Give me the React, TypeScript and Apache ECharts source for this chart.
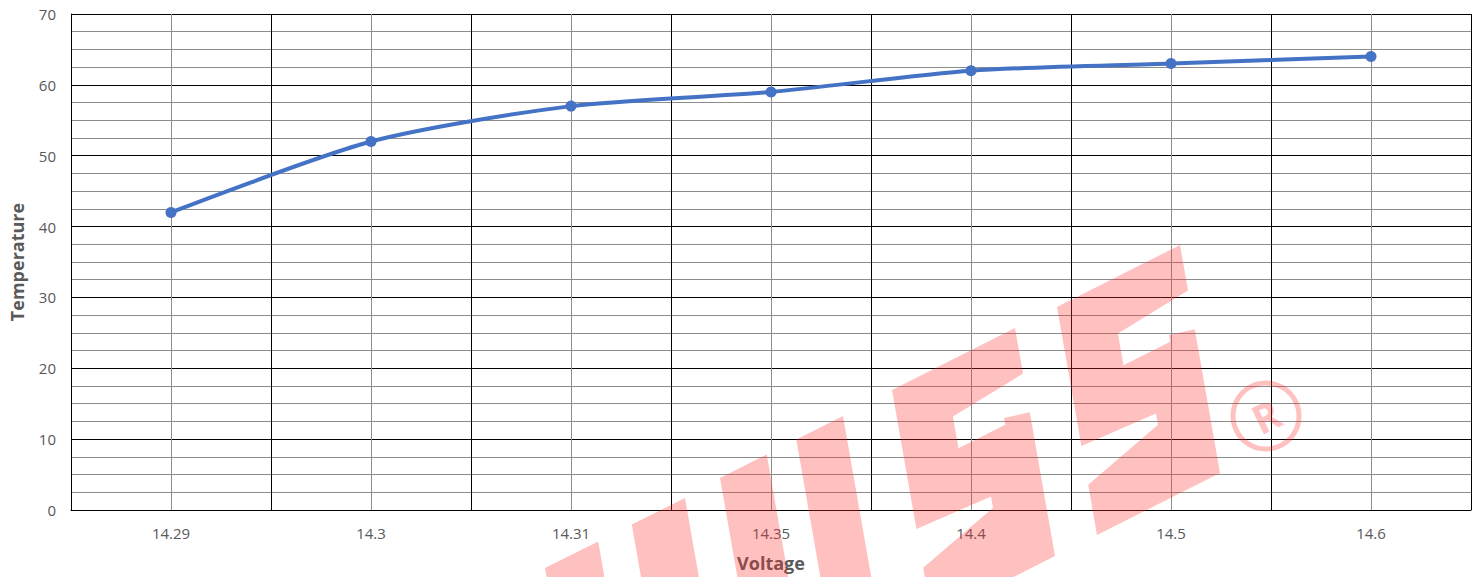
import React, { useEffect, useRef } from "react";
import * as echarts from "echarts";

// ---- data ----
const voltageCategories: string[] = ["14.29", "14.3", "14.31", "14.35", "14.4", "14.5", "14.6"];
const temperatureValues: number[] = [42, 52, 57, 59, 62, 63, 64];
const yAxisRange: number[] = [0, 70];
const yAxisStep = 10;

const FONT = "'Open Sans', 'Noto Sans', sans-serif";
const WM_COLOR = "rgba(255, 45, 45, 0.3)";

type Pt = [number, number];

// watermark helpers (decoration only)
const frameA: Pt = [123, -62];
const frameB: Pt = [40, 228];
function mapShape(o: Pt, pts: Pt[], a: Pt = frameA, b: Pt = frameB): number[][] {
  return pts.map(([u, v]) => [o[0] + u * a[0] + v * b[0], o[1] + u * a[1] + v * b[1]]);
}
const S_SHAPE: Pt[] = [
  [0, 0], [1, 0], [1, 0.2], [0.42, 0.23], [0.42, 0.37], [0.8, 0.37], [0.8, 0.34], [1, 0.37],
  [1, 1], [0, 1], [0, 0.78], [0.6, 0.68], [0.6, 0.63], [0, 0.61],
];
const U_SHAPE: Pt[] = [[0, 0], [0.38, 0], [0.38, 0.72], [0.62, 0.72], [0.62, 0], [1, 0], [1, 1], [0, 1]];

function watermark(): any[] {
  const polys: number[][][] = [
    mapShape([1057, 307], S_SHAPE),
    mapShape([892, 390], S_SHAPE),
    mapShape([720, 478], U_SHAPE),
    mapShape([545, 568], U_SHAPE, [140, -70], [40, 228]),
  ];
  const els: any[] = polys.map((p) => ({
    type: "polygon",
    shape: { points: p },
    style: { fill: WM_COLOR },
    z: 100,
    silent: true,
  }));
  els.push({
    type: "circle",
    shape: { cx: 1266, cy: 416, r: 33 },
    style: { fill: "none", stroke: WM_COLOR, lineWidth: 5 },
    z: 100,
    silent: true,
  });
  els.push({
    type: "text",
    x: 1266,
    y: 416,
    rotation: 0.45,
    style: {
      text: "R",
      fill: WM_COLOR,
      font: `bold 40px ${FONT}`,
      align: "center",
      verticalAlign: "middle",
    },
    z: 100,
    silent: true,
  });
  return els;
}

export default function App() {
  const ref = useRef<HTMLDivElement>(null);

  useEffect(() => {
    document.body.style.margin = "0";
    if (!ref.current) return;
    const chart = echarts.init(ref.current, undefined, { renderer: "svg" });
    const option: any = {
      animation: false,
      backgroundColor: "#ffffff",
      grid: { left: 68, right: 6, top: 14, bottom: 66, containLabel: false },
      xAxis: [
        {
          type: "category",
          data: voltageCategories,
          boundaryGap: true,
          position: "bottom",
          axisLine: { show: true, lineStyle: { color: "#000000", width: 1 } },
          axisTick: { show: false },
          axisLabel: { color: "#595959", fontSize: 15, fontFamily: FONT, margin: 15 },
          splitLine: { show: false },
          name: "Voltage",
          nameLocation: "middle",
          nameGap: 44,
          nameTextStyle: { color: "#595959", fontSize: 18, fontWeight: "bold", fontFamily: FONT },
          z: 3,
        },
        {
          type: "value",
          min: 0,
          max: voltageCategories.length * 2,
          interval: 1,
          position: "bottom",
          axisLine: { show: false },
          axisTick: { show: false },
          axisLabel: { show: false },
          splitLine: { show: true, lineStyle: { color: ["#000000", "#8c8c8c"], width: 1 } },
        },
      ],
      yAxis: {
        type: "value",
        min: yAxisRange[0],
        max: yAxisRange[1],
        interval: yAxisStep,
        axisLine: { show: true, lineStyle: { color: "#000000", width: 1 } },
        axisTick: { show: false },
        axisLabel: { color: "#595959", fontSize: 15, fontFamily: FONT, margin: 15 },
        splitLine: { show: true, lineStyle: { color: "#000000", width: 1 } },
        minorTick: { show: false, splitNumber: 4 },
        minorSplitLine: { show: true, lineStyle: { color: "#8c8c8c", width: 1 } },
        name: "Temperature",
        nameLocation: "middle",
        nameGap: 45,
        nameTextStyle: { color: "#595959", fontSize: 18, fontWeight: "bold", fontFamily: FONT },
      },
      series: [
        {
          type: "line",
          xAxisIndex: 0,
          yAxisIndex: 0,
          data: temperatureValues,
          smooth: 0.25,
          symbol: "circle",
          symbolSize: 11,
          lineStyle: { color: "#4472C4", width: 4 },
          itemStyle: { color: "#4472C4" },
          z: 5,
        },
      ],
      graphic: watermark(),
    };
    chart.setOption(option);
    return () => chart.dispose();
  }, []);

  return <div ref={ref} style={{ width: 1477, height: 577 }} />;
}
